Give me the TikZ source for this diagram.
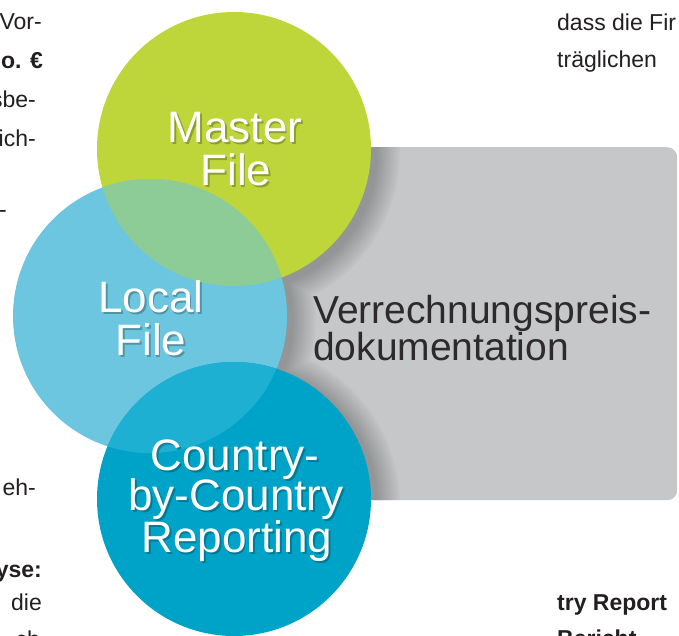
\documentclass[tikz,border=0pt]{standalone}
\usepackage{fontspec}
\setmainfont{Liberation Sans}
\definecolor{mgreen}{RGB}{190,214,58}
\definecolor{lblue}{RGB}{108,198,224}
\definecolor{ovgb}{RGB}{141,204,150}
\definecolor{dblue}{RGB}{0,163,200}
\definecolor{ovbb}{RGB}{30,176,210}
\definecolor{boxgray}{RGB}{198,199,201}
\definecolor{bodytext}{RGB}{35,31,32}
\definecolor{doctext}{RGB}{45,42,44}
\newcommand\circlabel[4]{%
  \node[lblsh] (#1s) at (#2+1.6,#3+2.2) {#4};
  \node[lbl] (#1) at (#2,#3) {#4};}
\begin{document}
\begin{tikzpicture}[x=1pt,y=-1pt,
  disc/.style={circle,inner sep=0pt,minimum size=274pt,draw=none},
  lbl/.style={text=white,font=\fontsize{44}{44}\selectfont,anchor=base,inner sep=0pt},
  lblsh/.style={text=black,opacity=0.25,font=\fontsize{44}{44}\selectfont,anchor=base,inner sep=0pt},
  body/.style={text=bodytext,font=\fontsize{23}{23}\selectfont,inner sep=0pt},
  bodyb/.style={body,font=\fontsize{23}{23}\selectfont\bfseries},
  doc/.style={text=doctext,font=\fontsize{39}{39}\selectfont,anchor=base west,inner sep=0pt}]
\useasboundingbox (0,0) rectangle (679,635);
\fill[white] (0,0) rectangle (679,635);

% grey box
\node[rectangle,rounded corners=10pt,fill=boxgray,minimum width=427pt,minimum height=353pt,
  anchor=north west,inner sep=0pt] (box) at (250,147) {};
\begin{scope}
  \clip[rounded corners=10pt] (250,147) rectangle (677,500);
  \foreach \i in {1,...,16} {
    \fill[black,opacity=0.016]
      (239,153) circle[radius=137pt+\i*1.5pt]
      (155,320) circle[radius=137pt+\i*1.5pt]
      (239,504) circle[radius=137pt+\i*1.5pt];
  }
\end{scope}

% circles
\node[disc,fill=mgreen] (green) at (234,149) {};
\node[disc,fill=lblue] (light) at (150,316) {};
\begin{scope}
  \clip (green.center) circle[radius=137pt];
  \fill[ovgb] (light.center) circle[radius=137pt];
\end{scope}
\node[disc,fill=dblue] (dark) at (234,499) {};
\begin{scope}
  \clip (light.center) circle[radius=137pt];
  \fill[ovbb] (dark.center) circle[radius=137pt];
\end{scope}

% circle labels
\circlabel{m1}{235}{142}{Master}
\circlabel{m2}{236}{185}{File}
\circlabel{l1}{151}{312}{Local}
\circlabel{l2}{151}{355}{File}
\circlabel{c1}{235}{470}{Country-}
\circlabel{c2}{236}{510}{by-Country}
\circlabel{c3}{237}{552}{Reporting}

% box text
\node[doc] (d1) at (313,323) {Verrechnungspreis-};
\node[doc] (d2) at (313,360) {dokumentation};

% surrounding body text fragments
\node[body,anchor=base east] (t1) at (42,29) {Vor-};
\node[bodyb,anchor=base east] (t2) at (43,68) {o. €};
\node[body,anchor=base east] (t3) at (36,107) {sbe-};
\node[body,anchor=base east] (t4) at (36,146) {ich-};
\node[body,anchor=base east] (t5) at (7,217) {-};
\node[body,anchor=base east] (t6) at (36,495) {eh-};
\node[bodyb,anchor=base east] (t7) at (42,577) {yse:};
\node[body,anchor=base east] (t8) at (42,610) {die};
\node[body,anchor=base east] (t9) at (40,647) {ch};
\node[body,anchor=base west] (r1) at (557,30) {dass die Fir};
\node[body,anchor=base west] (r2) at (557,67) {träglichen};
\node[bodyb,anchor=base west] (r3) at (557,610) {try Report};
\node[bodyb,anchor=base west] (r4) at (557,646) {Bericht};
\end{tikzpicture}
\end{document}
